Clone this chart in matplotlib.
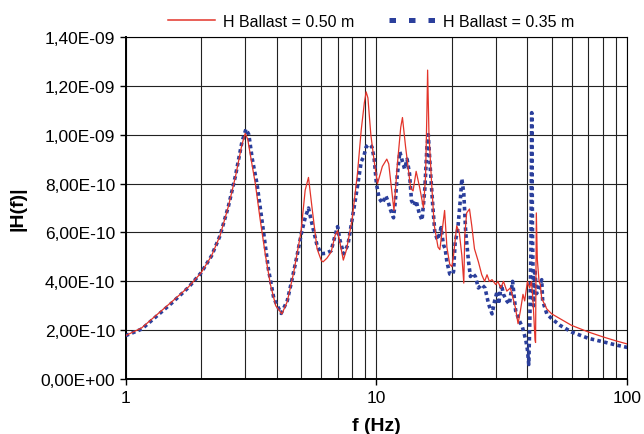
import matplotlib
matplotlib.use("Agg")
import matplotlib.pyplot as plt
from matplotlib.lines import Line2D
from matplotlib.ticker import FixedLocator, FuncFormatter, NullFormatter

plt.rcParams['font.family'] = ['Liberation Sans', 'DejaVu Sans']

# |H(f)|, values in units of 1e-10
f_red = [1.00, 1.16, 1.31, 1.53, 1.78, 2.00, 2.20, 2.38, 2.57, 2.74, 2.91, 3.00, 3.07, 3.14,
         3.29, 3.44, 3.61, 3.78, 3.97, 4.20, 4.41, 4.68, 5.00, 5.20, 5.36, 5.55, 5.80, 6.03,
         6.13, 6.35, 6.60, 6.85, 7.00, 7.15, 7.38, 7.60, 8.00, 8.40, 8.70, 8.95, 9.10, 9.25,
         9.50, 9.80, 10.1, 10.56, 11.0, 11.2, 11.6, 11.75, 12.1, 12.5, 12.7, 13.07, 13.7, 14.0,
         14.4, 14.9, 15.4, 15.7, 15.9, 16.0, 16.2, 16.6, 17.0, 17.6, 17.9, 18.2, 18.7, 19.1,
         19.6, 20.0, 20.3, 20.9, 21.4, 21.9, 22.3, 22.5, 22.9, 23.5, 24.0, 24.6, 25.5, 26.3,
         27.0, 27.6, 28.2, 28.9, 29.9, 30.5, 31.3, 32.1, 33.1, 34.2, 35.0, 35.8, 36.7, 37.5,
         38.4, 39.0, 40.0, 40.8, 41.5, 42.1, 42.9, 43.1, 43.4, 43.8, 44.5, 45.0, 45.6, 47.8,
         50.0, 60.0, 70.0, 80.0, 90.0, 100.0]
h_red = [1.78, 2.10, 2.57, 3.17, 3.77, 4.35, 5.04, 5.87, 7.07, 8.27, 9.60, 10.05, 9.80, 9.20,
         8.00, 6.53, 5.07, 3.87, 3.00, 2.67, 3.17, 4.37, 6.00, 7.73, 8.25, 6.93, 5.33, 4.85,
         4.80, 4.95, 5.20, 5.90, 6.07, 5.60, 4.87, 5.30, 6.53, 8.40, 10.2, 11.3, 11.75, 11.5,
         10.0, 8.9, 8.0, 8.7, 9.0, 8.8, 7.4, 6.9, 8.7, 10.3, 10.7, 9.5, 7.8, 7.7,
         8.5, 7.8, 7.0, 8.3, 11.0, 12.64, 10.0, 8.0, 6.3, 5.4, 5.3, 5.9, 6.9, 5.4,
         4.7, 4.6, 5.07, 6.27, 6.0, 5.07, 3.93, 5.87, 6.8, 6.96, 6.27, 5.33, 4.8, 4.27,
         4.0, 4.27, 4.0, 4.07, 3.87, 4.0, 3.73, 4.0, 3.6, 3.73, 3.33, 2.93, 2.27, 2.8,
         3.47, 3.2, 4.0, 3.73, 4.0, 3.2, 1.6, 1.5, 6.8, 4.9, 4.0, 3.87, 3.3, 2.87,
         2.67, 2.2, 1.93, 1.73, 1.57, 1.44]

f_blue = [1.00, 1.16, 1.31, 1.53, 1.78, 2.00, 2.20, 2.38, 2.57, 2.74, 2.91, 3.02, 3.10, 3.20,
          3.34, 3.55, 3.71, 3.90, 4.17, 4.41, 4.62, 4.83, 5.03, 5.20, 5.36, 5.55, 5.80, 6.03,
          6.30, 6.60, 6.85, 7.00, 7.15, 7.40, 7.70, 8.00, 8.40, 8.70, 8.90, 9.10, 9.35, 9.60,
          9.80, 10.0, 10.25, 10.56, 10.9, 11.1, 11.4, 11.7, 11.9, 12.1, 12.4, 12.7, 12.95, 13.25,
          13.55, 13.8, 14.1, 14.4, 14.8, 15.2, 15.6, 15.9, 16.1, 16.4, 16.8, 17.1, 17.5, 17.8,
          18.1, 18.5, 18.8, 19.1, 19.6, 20.0, 20.3, 20.6, 21.1, 21.6, 21.9, 22.3, 22.7, 23.3,
          23.7, 24.2, 24.8, 25.5, 26.3, 27.1, 28.0, 28.9, 29.6, 30.3, 30.7, 31.5, 32.1, 33.1,
          33.9, 34.9, 35.9, 37.1, 38.2, 39.4, 40.0, 40.5, 40.9, 41.3, 41.6, 41.9, 42.3, 42.8,
          43.5, 44.5, 45.6, 46.0, 47.8, 50.0, 54.0, 60.0, 70.0, 80.0, 90.0, 100.0]
h_blue = [1.78, 2.05, 2.52, 3.12, 3.75, 4.35, 5.04, 5.87, 7.07, 8.30, 9.70, 10.23, 10.0, 9.0,
          8.0, 6.0, 4.5, 3.3, 2.69, 3.2, 4.13, 5.07, 6.0, 6.6, 7.0, 6.3, 5.47, 5.13,
          5.15, 5.25, 5.9, 6.24, 5.7, 5.13, 5.5, 6.53, 7.87, 8.9, 9.1, 9.5, 9.6, 9.5,
          9.0, 8.0, 7.4, 7.2, 7.5, 7.3, 6.9, 6.6, 7.3, 8.3, 9.3, 8.9, 8.6, 9.0,
          8.4, 7.3, 7.1, 7.3, 6.8, 6.5, 7.8, 9.5, 10.0, 8.6, 7.0, 6.0, 5.7, 5.9,
          6.2, 5.5, 5.33, 4.8, 4.3, 4.27, 4.4, 5.6, 6.13, 7.33, 8.2, 7.6, 6.0, 4.8,
          4.2, 4.33, 4.2, 3.73, 3.87, 3.73, 3.07, 2.67, 3.2, 3.6, 3.07, 3.87, 3.47, 3.2,
          3.07, 4.0, 2.8, 2.4, 2.13, 1.6, 1.2, 0.6, 2.5, 5.3, 10.9, 6.0, 3.0, 4.5,
          3.5, 3.73, 4.07, 3.2, 2.67, 2.47, 2.2, 1.93, 1.67, 1.53, 1.4, 1.3]

labels = ['H Ballast = 0.50 m', 'H Ballast = 0.35 m']
y_ticks = [0, 2e-10, 4e-10, 6e-10, 8e-10, 1e-9, 1.2e-9, 1.4e-9]

RED = '#e3342a'
BLUE = '#2b3f9c'

fig = plt.figure(figsize=(6.44, 4.35), dpi=100)
ax = fig.add_axes([0.195, 0.126, 0.779, 0.787])

ax.plot(f_blue, [v * 1e-10 for v in h_blue], color=BLUE, lw=2.6,
        linestyle=(0, (1.0, 0.9)), zorder=3)
ax.plot(f_red, [v * 1e-10 for v in h_red], color=RED, lw=0.9, zorder=4)

ax.set_xscale('log')
ax.set_xlim(1, 100)
ax.set_ylim(0, 1.4e-9)
ax.set_yticks(y_ticks)
ax.yaxis.set_major_formatter(FuncFormatter(lambda v, p: ('%.2E' % v).replace('.', ',')))
ax.xaxis.set_major_locator(FixedLocator([1, 10, 100]))
ax.xaxis.set_major_formatter(FuncFormatter(lambda v, p: '%d' % v))
ax.xaxis.set_minor_formatter(NullFormatter())

ax.grid(True, which='both', axis='x', color='#222222', lw=0.8)
ax.grid(True, which='major', axis='y', color='#222222', lw=0.8)
ax.set_axisbelow(True)

ax.tick_params(axis='both', which='major', labelsize=12.5, direction='out', length=4, width=1)
ax.tick_params(axis='x', which='minor', length=0)
for side in ['left', 'bottom']:
    ax.spines[side].set_linewidth(1.4)
for side in ['top', 'right']:
    ax.spines[side].set_linewidth(0.8)

ax.set_xlabel('f (Hz)', fontsize=14, fontweight='bold', labelpad=9)
ax.set_ylabel('|H(f)|', fontsize=14, fontweight='bold', labelpad=10)

# legend handles drawn like the original's key (three square dashes for the blue one)
handles = [Line2D([], [], color=RED, lw=1.1),
           Line2D([], [], color=BLUE, lw=3.6, linestyle=(0, (1.3, 2.6)))]
ax.legend(handles, labels, loc='lower center', bbox_to_anchor=(0.49, 1.0), ncol=2,
          frameon=False, fontsize=11.5, handlelength=2.9, columnspacing=2.2,
          handletextpad=0.5, borderaxespad=0.1)

fig.savefig('out.png', dpi=100)
